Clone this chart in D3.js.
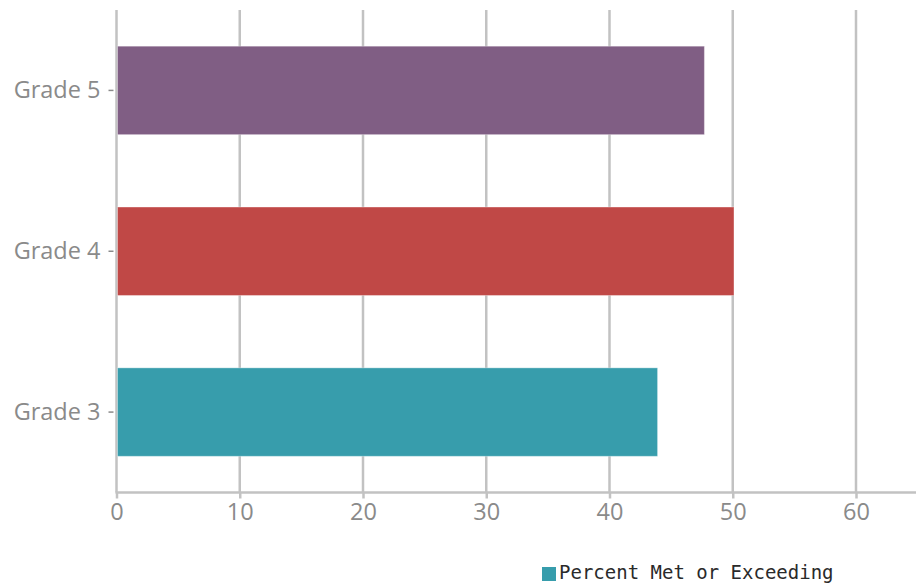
<!DOCTYPE html>
<html>
<head>
<meta charset="utf-8">
<script src="https://cdn.jsdelivr.net/npm/d3@7"></script>
<style>
  html, body { margin: 0; padding: 0; background: #fff; }
  svg { display: block; }
</style>
</head>
<body>
<svg id="chart" width="916" height="587"></svg>
<script>
// Share of students meeting or exceeding the standard, by grade
const categories = ["Grade 5", "Grade 4", "Grade 3"];
const values = [47.7, 50.1, 43.9];
const barColors = ["#805e84", "#c04846", "#379dac"];
const xTicks = [0, 10, 20, 30, 40, 50, 60];
const seriesName = "Percent Met or Exceeding";
const legendColor = "#379dac";

const svg = d3.select("#chart");
const plotLeft = 116.5, plotRight = 916, plotTop = 10, plotBottom = 492.5;

const x = d3.scaleLinear().domain([0, 60]).range([plotLeft, 856]);
const y = d3.scaleBand().domain(categories).range([plotTop, plotBottom])
  .paddingInner(0.45).paddingOuter(0.225);

const labelFont = "'Open Sans', 'Noto Sans', sans-serif";
const gridColor = "#c2c2c2";
const textColor = "#8a8a8a";

// vertical grid lines
svg.append("g").selectAll("line").data(xTicks).join("line")
  .attr("x1", d => x(d)).attr("x2", d => x(d))
  .attr("y1", plotTop).attr("y2", plotBottom)
  .attr("stroke", gridColor).attr("stroke-width", 2.5);

// bars
svg.append("g").selectAll("rect").data(categories).join("rect")
  .attr("x", x(0) + 1)
  .attr("y", d => y(d))
  .attr("width", (d, i) => x(values[i]) - x(0) - 1)
  .attr("height", y.bandwidth())
  .attr("fill", (d, i) => barColors[i])
  .attr("stroke", "rgba(255,255,255,0.35)")
  .attr("stroke-width", 1);

// x axis
const xAxis = svg.append("g").attr("transform", `translate(0,${plotBottom})`)
  .call(d3.axisBottom(x).tickValues(xTicks).tickSize(6).tickPadding(5).tickFormat(d3.format("d")));
xAxis.select(".domain").remove();
xAxis.append("line").attr("x1", plotLeft - 1).attr("x2", plotRight).attr("y1", 0).attr("y2", 0)
  .attr("stroke", gridColor).attr("stroke-width", 2.5);
xAxis.selectAll(".tick line").attr("stroke", gridColor).attr("stroke-width", 2.5);
xAxis.selectAll(".tick text")
  .attr("fill", textColor).attr("font-family", labelFont).attr("font-size", 23.5);

// y axis
const yAxis = svg.append("g").attr("transform", `translate(${plotLeft - 3},0)`)
  .call(d3.axisLeft(y).tickSize(5).tickPadding(8));
yAxis.select(".domain").remove();
yAxis.selectAll(".tick line").attr("stroke", textColor).attr("stroke-width", 1.5);
yAxis.selectAll(".tick text")
  .attr("fill", textColor).attr("font-family", labelFont).attr("font-size", 23.5);

// legend
const legend = svg.append("g").attr("transform", "translate(542,567)");
legend.append("rect").attr("width", 14).attr("height", 14).attr("fill", legendColor);
legend.append("text").attr("x", 17).attr("y", 11.5)
  .attr("font-family", "'DejaVu Sans Mono', 'Liberation Mono', monospace")
  .attr("font-size", 19).attr("fill", "#2a2a2a")
  .text(seriesName);
</script>
</body>
</html>
